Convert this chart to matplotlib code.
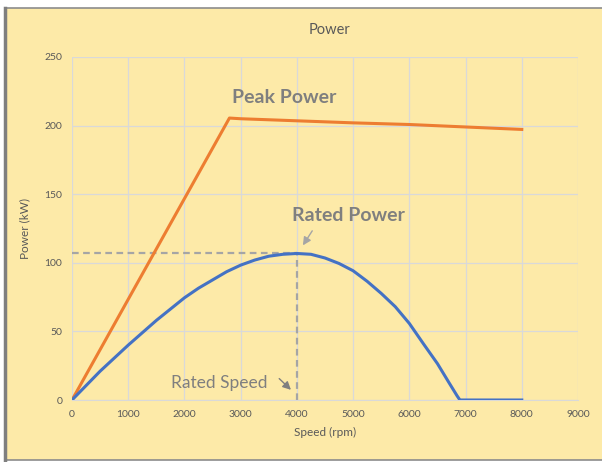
import matplotlib
matplotlib.use("Agg")
import matplotlib.pyplot as plt
from matplotlib.patches import Rectangle
from matplotlib.lines import Line2D

# peak power curve (rpm, kW)
peak_speed = [0, 2800, 3000, 4000, 5000, 6000, 7000, 8000]
peak_power = [0, 205.5, 205, 203.5, 202, 200.8, 199, 197.2]

# rated power curve (rpm, kW)
rated_speed = [0, 500, 1000, 1500, 2000, 2250, 2500, 2750, 3000, 3250, 3500,
               3750, 4000, 4250, 4500, 4750, 5000, 5250, 5500, 5750, 6000,
               6250, 6500, 6700, 6850, 6900, 8000]
rated_power = [0, 21, 40, 58, 74.5, 81.5, 87.5, 93.5, 98.3, 102, 104.8,
               106.2, 106.8, 106.2, 103.5, 99.5, 94.2, 86.5, 77.7, 68, 55.8,
               41, 26.5, 13, 3, 0, 0]

rated_point = (4000, 106.8)
x_ticks = list(range(0, 9001, 1000))
y_ticks = list(range(0, 251, 50))

BG = "#FDEAA8"
GRID = "#D9D9D9"
TXT = "#595959"
NOTE = "#7F7F7F"
FONT = ["Lato", "DejaVu Sans"]

plt.rcParams["font.family"] = FONT

fig = plt.figure(figsize=(6.02, 4.62), dpi=100)
W, H = 602, 462

# chart frame
fig.patches.append(Rectangle((5 / W, 1 - 460 / H), 600 / W, 452 / H,
                             transform=fig.transFigure, facecolor=BG,
                             edgecolor="#8C8C8C", linewidth=1.2, zorder=-10))
fig.lines.append(Line2D([4.5 / W, 4.5 / W], [1 - 460 / H, 1 - 8 / H],
                        transform=fig.transFigure, color="#7F7F7F",
                        linewidth=2.5, zorder=-9))

ax = fig.add_axes([72 / W, 1 - 400 / H, 506 / W, 343 / H])
ax.set_zorder(1)
ax.patch.set_alpha(0)

ax.plot(peak_speed, peak_power, color="#ED7D31", linewidth=2.2, zorder=3)
ax.plot(rated_speed, rated_power, color="#4472C4", linewidth=2.2, zorder=3,
        solid_joinstyle="round")

ax.plot([0, rated_point[0]], [rated_point[1], rated_point[1]], color="#A5A5A5",
        linewidth=1.6, linestyle=(0, (3, 2)), zorder=2)
ax.plot([rated_point[0], rated_point[0]], [0, rated_point[1]], color="#A5A5A5",
        linewidth=1.6, linestyle=(0, (3, 2)), zorder=2)

ax.set_xlim(0, 9000)
ax.set_ylim(0, 250)
ax.set_xticks(x_ticks)
ax.set_yticks(y_ticks)
ax.grid(True, color=GRID, linewidth=0.9)
ax.set_axisbelow(True)
for side in ["top", "right", "left"]:
    ax.spines[side].set_visible(False)
ax.spines["bottom"].set_color(GRID)
ax.tick_params(length=0, labelsize=7.5, labelcolor=TXT, pad=7)

ax.set_xlabel("Speed (rpm)", fontsize=8.5, color=TXT, labelpad=6)
ax.set_ylabel("Power (kW)", fontsize=8.5, color=TXT, labelpad=10)
fig.text(330 / W, 1 - 30 / H, "Power", ha="center", va="center",
         fontsize=10.5, color=TXT)

ax.text(3780, 220.5, "Peak Power", ha="center", va="center", fontsize=14,
        fontweight="bold", color=NOTE)
ax.text(4920, 134.5, "Rated Power", ha="center", va="center", fontsize=14,
        fontweight="bold", color=NOTE)
ax.annotate("", xy=(4080, 111), xytext=(4300, 125),
            arrowprops=dict(arrowstyle="-|>", color="#A5A5A5", lw=1,
                            mutation_scale=12))
ax.text(2620, 12.5, "Rated Speed", ha="center", va="center", fontsize=12.5,
        color=NOTE)
ax.annotate("", xy=(3930, 6), xytext=(3650, 17),
            arrowprops=dict(arrowstyle="-|>", color=NOTE, lw=1,
                            mutation_scale=12))

fig.savefig("out.png", dpi=100)
